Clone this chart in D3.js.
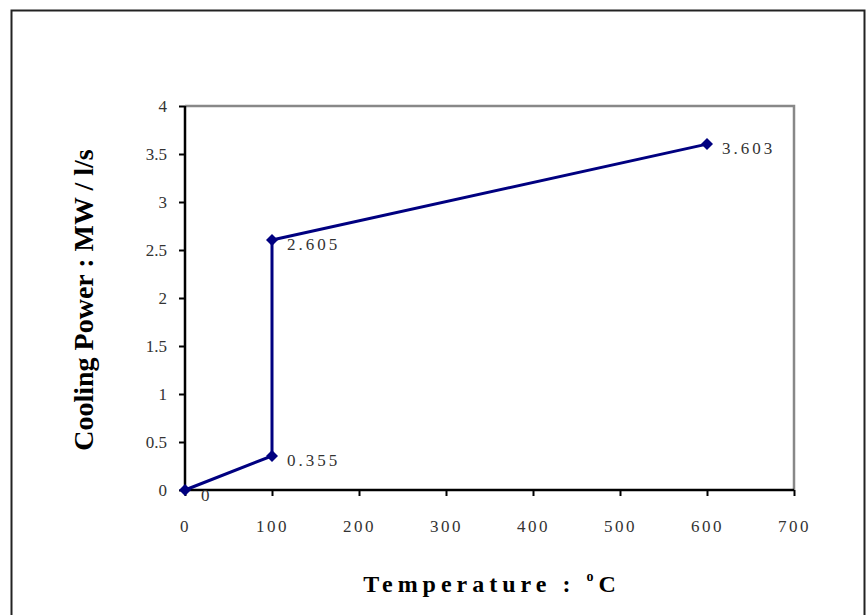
<!DOCTYPE html>
<html>
<head>
<meta charset="utf-8">
<script src="https://d3js.org/d3.v7.min.js"></script>
<style>
body { margin: 0; background: #fff; }
</style>
</head>
<body>
<script>
var temps = [0, 100, 100, 600];
var power = [0, 0.355, 2.605, 3.603];
var labels = ["0", "0.355", "2.605", "3.603"];
var xTicks = [0, 100, 200, 300, 400, 500, 600, 700];
var yTicks = [0, 0.5, 1, 1.5, 2, 2.5, 3, 3.5, 4];

var svg = d3.select("body").append("svg")
	.attr("width", 866)
	.attr("height", 615)

// outer frame
svg.append("path")
	.attr("d", "M11.5,620 V10.5 H864.5 V620")
	.attr("fill", "none")
	.attr("stroke", "#222")
	.attr("stroke-width", 2)

var x = d3.scaleLinear().domain([0, 700]).range([185, 794]);
var y = d3.scaleLinear().domain([0, 4]).range([490, 106]);

// plot frame top/right (gray)
svg.append("path")
	.attr("d", "M" + x(0) + "," + y(4) + " H" + x(700) + " V" + y(0))
	.attr("fill", "none")
	.attr("stroke", "#888")
	.attr("stroke-width", 2.5)

var xAxis = svg.append("g")
	.attr("transform", "translate(0," + y(0) + ")")
	.call(d3.axisBottom(x).tickValues(xTicks).tickSize(6).tickPadding(24).tickFormat(d3.format("d")))
var yAxis = svg.append("g")
	.attr("transform", "translate(" + x(0) + ",0)")
	.call(d3.axisLeft(y).tickValues(yTicks).tickSize(6).tickPadding(12).tickFormat(function(d) {return String(d)}))

svg.selectAll(".domain").attr("stroke", "#000").attr("stroke-width", 2.5)
	.attr("d", null)
xAxis.select(".domain").attr("d", "M" + x(0) + ",0H" + x(700))
yAxis.select(".domain").attr("d", "M0," + y(0) + "V" + y(4))
svg.selectAll(".tick line").attr("stroke", "#000").attr("stroke-width", 2)
svg.selectAll(".tick text")
	.attr("font-family", "Liberation Serif, serif")
	.attr("font-size", 17)
	.attr("fill", "#333")
xAxis.selectAll(".tick text").attr("letter-spacing", 2.5)

var line = d3.line()
	.x(function(d, i) {return x(temps[i])})
	.y(function(d, i) {return y(power[i])})

svg.append("path")
	.datum(power)
	.attr("d", line)
	.attr("fill", "none")
	.attr("stroke", "#000080")
	.attr("stroke-width", 3)

svg.selectAll(".pt")
	.data(power)
	.enter()
	.append("path")
	.attr("class", "pt")
	.attr("d", d3.symbol().type(d3.symbolSquare).size(72))
	.attr("transform", function(d, i) {return "translate(" + x(temps[i]) + "," + y(d) + ") rotate(45)"})
	.attr("fill", "#000080")

svg.selectAll(".lbl")
	.data(labels)
	.enter()
	.append("text")
	.attr("class", "lbl")
	.attr("x", function(d, i) {return x(temps[i]) + (i == 0 ? 16 : 15)})
	.attr("y", function(d, i) {return y(power[i]) + (i == 0 ? 11 : 10)})
	.attr("font-family", "Liberation Serif, serif")
	.attr("font-size", 17)
	.attr("letter-spacing", 3)
	.attr("fill", "#333")
	.text(function(d) {return d})

// axis titles
svg.append("text")
	.attr("transform", "translate(93,300) rotate(-90)")
	.attr("text-anchor", "middle")
	.attr("font-family", "Liberation Serif, serif")
	.attr("font-weight", "bold")
	.attr("font-size", 28)
	.text("Cooling Power : MW / l/s")

var xt = svg.append("text")
	.attr("x", 492)
	.attr("y", 592)
	.attr("text-anchor", "middle")
	.attr("font-family", "Liberation Serif, serif")
	.attr("font-weight", "bold")
	.attr("font-size", 24)
	.attr("letter-spacing", 5)
xt.append("tspan").text("Temperature : ")
xt.append("tspan").attr("font-size", 14).attr("dy", -11).text("o")
xt.append("tspan").attr("dy", 11).text("C")
</script>
</body>
</html>
